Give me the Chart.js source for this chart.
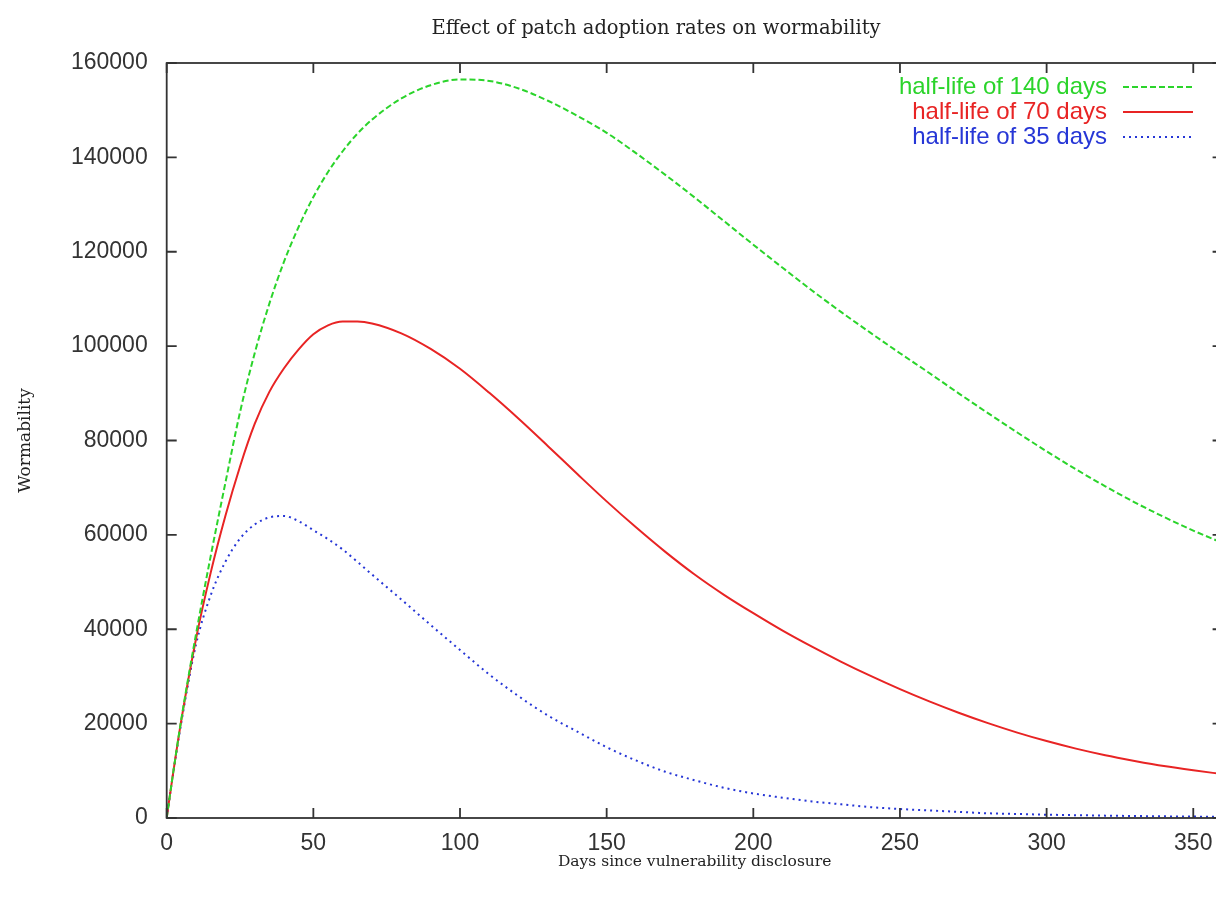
<!DOCTYPE html>
<html>
<head>
<meta charset="utf-8">
<title>Effect of patch adoption rates on wormability</title>
<script src="https://cdn.jsdelivr.net/npm/chart.js@4.4.1/dist/chart.umd.min.js"></script>
<style>
  html, body { margin: 0; padding: 0; background: #fff; overflow: hidden; }
  #wrap { width: 1312px; height: 897px; position: relative; }
</style>
</head>
<body>
<div id="wrap"><canvas id="wormChart"></canvas></div>
<script>
// ---- data ----
const days = [0, 2, 5, 10, 15, 20, 25, 30, 35, 40, 45, 50, 55, 60, 65, 70, 80, 90, 100, 110, 120, 130, 140, 150,
  160, 170, 180, 190, 200, 210, 220, 230, 240, 250, 260, 270, 280, 290, 300, 310, 320, 330, 340, 350, 360];

// half-life of 140 days
const hl140 = [0, 8700, 21000, 39000, 55500, 71000, 86000, 98500, 109000, 117900, 125300, 131600, 136900, 141300,
  145000, 148000, 152500, 155300, 156500, 156200, 154600, 152000, 148800, 145200,
  140900, 136300, 131500, 126500, 121500, 116600, 111800, 107200, 102800, 98500, 94300, 90000, 85800, 81700,
  77700, 73900, 70300, 66900, 63800, 60900, 58300];

// half-life of 70 days
const hl70 = [0, 8700, 20800, 38000, 52000, 64000, 74500, 83500, 90300, 95300, 99300, 102500, 104400, 105200,
  105200, 104800, 102700, 99400, 95200, 90100, 84600, 78800, 72900, 67100,
  61600, 56400, 51600, 47300, 43400, 39700, 36300, 33100, 30100, 27300, 24700, 22300, 20100, 18100,
  16300, 14700, 13300, 12100, 11000, 10100, 9300];

// half-life of 35 days
const hl35 = [0, 8600, 20300, 36800, 47200, 54300, 59200, 62200, 63700, 64000, 62900, 61000, 59100, 56900,
  54300, 51600, 46300, 40900, 35600, 30400, 25800, 21700, 18300, 15000,
  12200, 9800, 8000, 6400, 5200, 4300, 3500, 2900, 2300, 1900, 1600, 1300, 1000, 850,
  700, 600, 500, 420, 350, 300, 250];

const seriesLabels = ["half-life of 140 days", "half-life of 70 days", "half-life of 35 days"];
const seriesColors = ["#2bd42b", "#e82424", "#2636d6"];
const seriesDash = [[6, 3], [], [2, 4]];

const xTicks = [0, 50, 100, 150, 200, 250, 300, 350];
const yTicks = [0, 20000, 40000, 60000, 80000, 100000, 120000, 140000, 160000];

function toPoints(vals) {
  return days.map((d, i) => ({ x: d, y: vals[i] }));
}

// gnuplot style frame with inward ticks on all four sides
const framePlugin = {
  id: "frame",
  afterDatasetsDraw(chart) {
    const { ctx, chartArea: a, scales } = chart;
    ctx.save();
    ctx.strokeStyle = "#333";
    ctx.lineWidth = 1.8;
    ctx.strokeRect(a.left, a.top, a.right - a.left, a.bottom - a.top);
    const len = 10;
    ctx.beginPath();
    xTicks.forEach(v => {
      const px = scales.x.getPixelForValue(v);
      ctx.moveTo(px, a.bottom); ctx.lineTo(px, a.bottom - len);
      ctx.moveTo(px, a.top); ctx.lineTo(px, a.top + len);
    });
    yTicks.forEach(v => {
      const py = scales.y.getPixelForValue(v);
      ctx.moveTo(a.left, py); ctx.lineTo(a.left + len, py);
      ctx.moveTo(a.right, py); ctx.lineTo(a.right - len, py);
    });
    ctx.stroke();
    ctx.restore();
  }
};

// key in the top right corner: text right aligned, sample line after it
const keyPlugin = {
  id: "key",
  afterDraw(chart) {
    const { ctx } = chart;
    const textRight = 1107, sampleL = 1123, sampleR = 1193;
    const rows = [87, 112, 137];
    ctx.save();
    ctx.font = "24px 'Liberation Sans', Arial, sans-serif";
    ctx.textAlign = "right";
    ctx.textBaseline = "middle";
    chart.data.datasets.forEach((ds, i) => {
      const y = rows[i];
      ctx.fillStyle = ds.borderColor;
      ctx.fillText(ds.label, textRight, y);
      ctx.strokeStyle = ds.borderColor;
      ctx.lineWidth = 2;
      ctx.setLineDash(ds.borderDash || []);
      ctx.beginPath();
      ctx.moveTo(sampleL, y);
      ctx.lineTo(sampleR, y);
      ctx.stroke();
    });
    ctx.restore();
  }
};

const ctx = document.getElementById("wormChart").getContext("2d");
new Chart(ctx, {
  type: "line",
  data: {
    datasets: [hl140, hl70, hl35].map((vals, i) => ({
      label: seriesLabels[i],
      data: toPoints(vals),
      borderColor: seriesColors[i],
      borderDash: seriesDash[i],
      borderWidth: 2,
      pointRadius: 0,
      fill: false,
      cubicInterpolationMode: "monotone"
    }))
  },
  options: {
    responsive: true,
    maintainAspectRatio: false,
    animation: false,
    layout: { padding: 0 },
    plugins: {
      legend: { display: false },
      tooltip: { enabled: false },
      title: {
        display: true,
        text: "Effect of patch adoption rates on wormability",
        color: "#222",
        font: { family: "'DejaVu Serif', 'Liberation Serif', serif", size: 19.5, weight: "normal" },
        padding: { top: 17, bottom: 22.6 }
      }
    },
    scales: {
      x: {
        type: "linear",
        min: 0,
        max: 360,
        grid: { display: false },
        border: { display: false },
        afterBuildTicks: s => { s.ticks = xTicks.map(v => ({ value: v })); },
        afterFit: s => { s.height = 79; },
        ticks: {
          color: "#333",
          padding: 4,
          maxRotation: 0,
          font: { family: "'Liberation Sans', Arial, sans-serif", size: 23 },
          callback: v => String(v)
        },
        title: {
          display: true,
          text: "Days since vulnerability disclosure",
          color: "#222",
          font: { family: "'DejaVu Serif', 'Liberation Serif', serif", size: 15.5 },
          padding: { top: 0, bottom: 25.5 }
        }
      },
      y: {
        min: 0,
        max: 160000,
        grid: { display: false },
        border: { display: false },
        afterBuildTicks: s => { s.ticks = yTicks.map(v => ({ value: v })); },
        afterFit: s => { s.width = 166.7; },
        ticks: {
          color: "#333",
          padding: 11,
          font: { family: "'Liberation Sans', Arial, sans-serif", size: 23 },
          callback: v => String(v)
        },
        title: {
          display: true,
          text: "Wormability",
          color: "#222",
          font: { family: "'DejaVu Serif', 'Liberation Serif', serif", size: 17 },
          padding: { top: 15, bottom: 0 }
        }
      },
      // empty right axis: keeps the plot's right edge where the reference crops it
      yRight: {
        position: "right",
        min: 0,
        max: 160000,
        grid: { display: false },
        border: { display: false },
        ticks: { display: false },
        afterFit: s => { s.width = 89.4; }
      }
    }
  },
  plugins: [framePlugin, keyPlugin]
});
</script>
</body>
</html>
